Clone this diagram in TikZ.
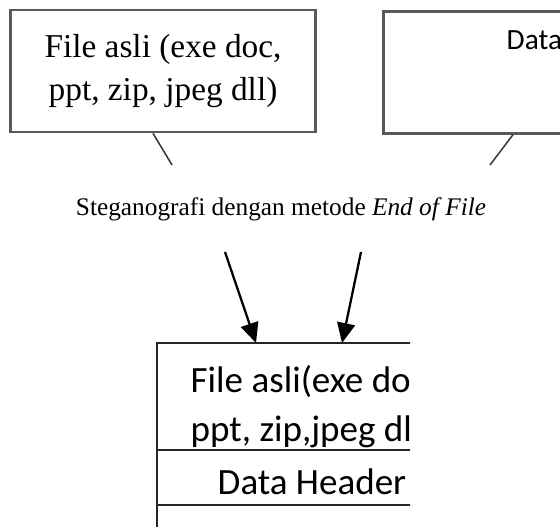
\documentclass[tikz,border=0pt]{standalone}
\usepackage{fontspec}
\setmainfont{Liberation Serif}
\newfontfamily\calibri{Carlito}
\usetikzlibrary{arrows.meta}

\tikzset{
    asalbox/.style={draw=black!65, line width=2pt, inner sep=0pt},
    tali/.style={draw=black!80, line width=1.1pt},
    panah/.style={draw=black, line width=1.7pt, -{Triangle[length=15pt,width=13.5pt]}},
    garis/.style={draw=black!85, line width=1.4pt},
    isian/.style={anchor=base west, font=\calibri\fontsize{27.8}{34}\selectfont},
}

\begin{document}
\begin{tikzpicture}[x=0.75pt,y=-0.75pt]
    \useasboundingbox (0,0) rectangle (560,527);

    % kotak atas
    \node[asalbox, minimum width=228.5pt, minimum height=91.5pt, align=center,
          font=\fontsize{25}{32}\selectfont] (asli) at (163,71)
          {File asli (exe doc,\\ppt, zip, jpeg dll)};
    \node[asalbox, minimum width=300pt, minimum height=91.5pt, anchor=north west] (sisip) at (382,10) {};
    \node[anchor=base west, font=\calibri\fontsize{22}{26}\selectfont] (sisipteks) at (502,50) {Data};

    \coordinate (ujungA) at (172,165);
    \coordinate (ujungB) at (490,165);
    \draw[tali] ([xshift=-7.5pt]asli.south) -- (ujungA);
    \draw[tali] ([xshift=98.25pt]sisip.south west) -- (ujungB);

    \node[font=\fontsize{19}{23}\selectfont] (judul) at (281,209)
        {Steganografi dengan metode \textit{End of File}};

    % kotak hasil
    \coordinate (pangkalA) at (225,252);
    \coordinate (pangkalB) at (361,252);
    \coordinate (tepiKiri) at (157,343);
    \coordinate (tepiKanan) at (470,343);
    \coordinate (masukA) at (256,343);
    \coordinate (masukB) at (342,343);
    \draw[panah] (pangkalA) -- (masukA);
    \draw[panah] (pangkalB) -- (masukB);

    \begin{scope}
        \clip (140,330) rectangle (410,540);
        \draw[garis] (157,560) -- (tepiKiri) -- (tepiKanan);
        \draw[garis] (157,450) -- (470,450);
        \draw[garis] (157,505) -- (470,505);
        \node[isian] (hasil1) at (186,392) {File asli(exe doc,};
        \node[isian] (hasil2) at (186,441) {ppt, zip,jpeg dll)};
        \node[isian] (header) at (213,494) {Data Header};
    \end{scope}
\end{tikzpicture}
\end{document}
